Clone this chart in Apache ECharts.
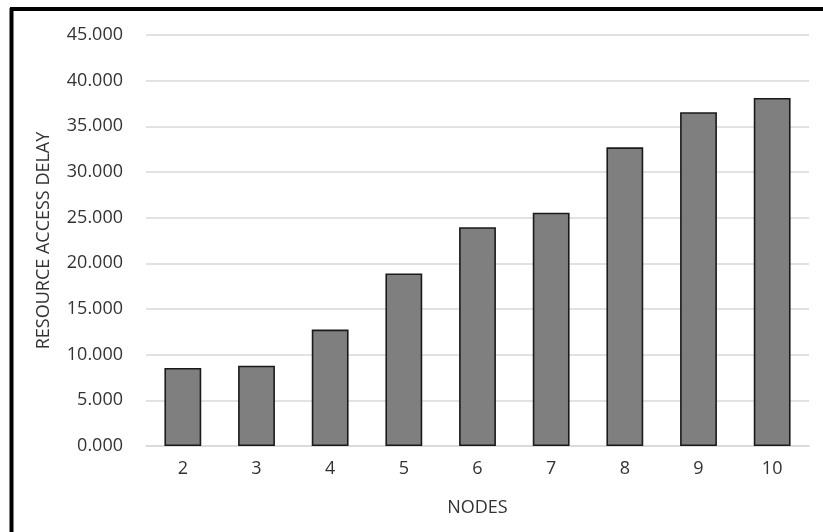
<!DOCTYPE html>
<html>
<head>
<meta charset="utf-8">
<script src="https://cdn.jsdelivr.net/npm/echarts@6/dist/echarts.min.js"></script>
<style>
  html, body { margin: 0; padding: 0; background: #fff; }
  #chart { width: 823px; height: 532px; }
</style>
</head>
<body>
<div id="chart"></div>
<script>
// Resource access delay per number of nodes
const nodes = ['2', '3', '4', '5', '6', '7', '8', '9', '10'];
const accessDelay = [8.55, 8.8, 12.75, 18.9, 23.95, 25.55, 32.7, 36.55, 38.1];
const yTicks = { min: 0, max: 45, interval: 5 };

const textColor = '#333333';
const fontFamily = '"Open Sans", "Noto Sans", sans-serif';

const chart = echarts.init(document.getElementById('chart'), null, { renderer: 'canvas' });

chart.setOption({
  animation: false,
  backgroundColor: '#ffffff',
  grid: { left: 146, right: 14, top: 35, bottom: 86 },
  xAxis: {
    type: 'category',
    data: nodes,
    name: 'NODES',
    nameLocation: 'middle',
    nameGap: 53,
    nameTextStyle: { color: textColor, fontSize: 18, fontFamily },
    axisLine: { show: true, lineStyle: { color: '#d9d9d9', width: 1.5 } },
    axisTick: { show: false },
    axisLabel: { color: textColor, fontSize: 18, fontFamily, margin: 14 }
  },
  yAxis: {
    type: 'value',
    min: yTicks.min,
    max: yTicks.max,
    interval: yTicks.interval,
    name: 'RESOURCE ACCESS DELAY',
    nameLocation: 'middle',
    nameGap: 93,
    nameTextStyle: { color: textColor, fontSize: 18, fontFamily },
    axisLine: { show: false },
    axisTick: { show: false },
    axisLabel: {
      color: textColor, fontSize: 18, fontFamily, margin: 23,
      formatter: v => v.toFixed(3)
    },
    splitLine: { lineStyle: { color: '#d9d9d9', width: 1.5 } }
  },
  series: [{
    type: 'bar',
    data: accessDelay,
    barWidth: '50%',
    itemStyle: { color: '#7f7f7f', borderColor: '#1a1a1a', borderWidth: 1.6 }
  }],
  graphic: [
    // frame on the left and top edges
    { type: 'line', shape: { x1: 11.5, y1: 8, x2: 11.5, y2: 532 },
      style: { stroke: '#000', lineWidth: 4 } },
    { type: 'line', shape: { x1: 10, y1: 9, x2: 823, y2: 9 },
      style: { stroke: '#000', lineWidth: 4 } }
  ]
});
</script>
</body>
</html>
